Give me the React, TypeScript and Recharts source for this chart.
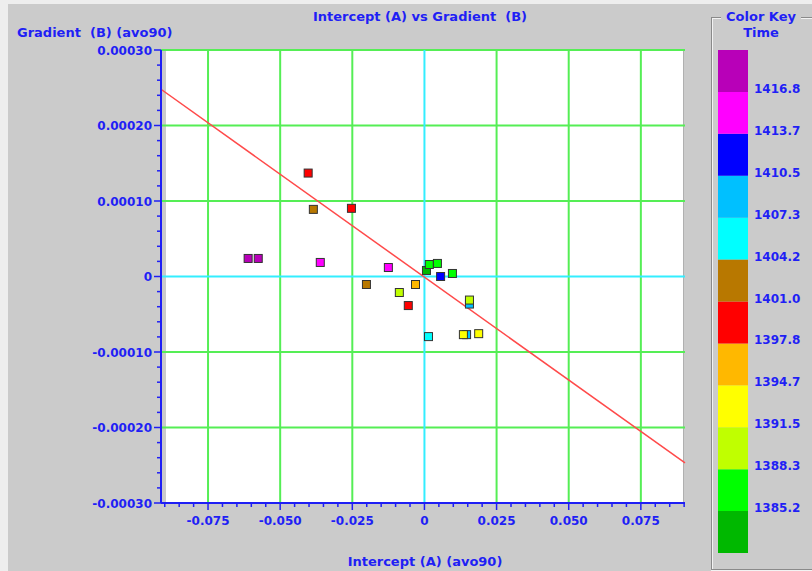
import React from "react";
import {
  ScatterChart,
  Scatter,
  XAxis,
  YAxis,
  ReferenceLine,
  BarChart,
  Bar,
} from "recharts";

// crossplot samples: intercept A, gradient B, and the time each one belongs to
const intercepts = [
  -0.0611, -0.0576, -0.0403, -0.0385, -0.0361, -0.0253, -0.0125, -0.0201,
  -0.0031, -0.0087, -0.0056, 0.0007, 0.0017, 0.0045, 0.0056, 0.0097,
  0.0156, 0.0156, 0.0014, 0.0146, 0.0135, 0.0188,
];
const gradients = [
  0.0000239, 0.0000239, 0.000137, 0.0000889, 0.0000186, 0.0000903, 0.0000119,
  -0.0000106, -0.0000106, -0.0000212, -0.0000385, 0.000008, 0.0000159,
  0.0000173, 0.0, 0.000004, -0.0000365, -0.0000312, -0.0000796, -0.000077,
  -0.000077, -0.0000757,
];
const times = [
  1418.0, 1418.4, 1399.0, 1402.0, 1415.0, 1399.5, 1415.5, 1402.5, 1396.0,
  1390.0, 1398.5, 1384.0, 1386.5, 1386.8, 1412.0, 1387.0, 1408.5, 1390.5,
  1405.5, 1409.0, 1393.0, 1392.5,
];

// least squares line, end points at the plot edges
const fitLine = [
  { A: -0.0913, B: 0.000248 },
  { A: 0.0903, B: -0.000247 },
];

// colour key, bottom band first
const keyColors = [
  "#00b800", "#00ff00", "#c0ff00", "#ffff00", "#ffb800", "#ff0000",
  "#b87800", "#00ffff", "#00c0ff", "#0000ff", "#ff00ff", "#b800b8",
];
const keyBounds = [
  1382.0, 1385.2, 1388.3, 1391.5, 1394.7, 1397.8, 1401.0, 1404.2, 1407.3,
  1410.5, 1413.7, 1416.8, 1420.0,
];
const keyLabels = [
  "1385.2", "1388.3", "1391.5", "1394.7", "1397.8", "1401.0", "1404.2",
  "1407.3", "1410.5", "1413.7", "1416.8",
];

const xMajorTicks = [-0.075, -0.05, -0.025, 0, 0.025, 0.05, 0.075];
const xTickLabels = ["-0.075", "-0.050", "-0.025", "0", "0.025", "0.050", "0.075"];
const yMajorTicks = [-0.0003, -0.0002, -0.0001, 0, 0.0001, 0.0002, 0.0003];
const yTickLabels = [
  "-0.00030", "-0.00020", "-0.00010", "0", "0.00010", "0.00020", "0.00030",
];

const X_DOMAIN = [-0.0913, 0.0903];
const Y_DOMAIN = [-0.0003, 0.0003];
const X_MINOR = 0.005;
const Y_MINOR = 0.00002;

const BLUE = "#1f1ff5";
const GRID = "#55ee55";
const ZERO = "#33eeff";
const FONT = '"DejaVu Sans", sans-serif';

const minorTicks = (lo: number, hi: number, step: number, digits: number) => {
  const out: number[] = [];
  for (let i = Math.ceil(lo / step - 1e-9); i * step <= hi + 1e-12; i++) {
    out.push(Number((i * step).toFixed(digits)));
  }
  return out;
};
const xTicks = minorTicks(X_DOMAIN[0], X_DOMAIN[1], X_MINOR, 4);
const yTicks = minorTicks(Y_DOMAIN[0], Y_DOMAIN[1], Y_MINOR, 6);

const majorIndex = (list: number[], v: number) =>
  list.findIndex((m) => Math.abs(m - v) < 1e-9);

const colorForTime = (t: number) => {
  for (let i = 0; i < keyColors.length; i++) {
    if (t >= keyBounds[i] && t < keyBounds[i + 1]) return keyColors[i];
  }
  return keyColors[keyColors.length - 1];
};

const points = intercepts.map((A, i) => ({ A, B: gradients[i], time: times[i] }));
const keyRow = [
  Object.fromEntries([["name", "Time"], ...keyColors.map((_, i) => [`b${i}`, 1])]),
];

const labelStyle: React.CSSProperties = {
  position: "absolute",
  fontFamily: FONT,
  fontWeight: "bold",
  fontSize: 13,
  color: BLUE,
  whiteSpace: "pre",
  lineHeight: "15px",
};

function YTick(props: any) {
  const { x, y, payload } = props;
  const idx = majorIndex(yMajorTicks, payload.value);
  return (
    <g>
      <line x1={x - (idx >= 0 ? 7 : 4)} x2={x} y1={y} y2={y} stroke={BLUE} strokeWidth={1.5} />
      {idx >= 0 && (
        <text x={x - 9} y={y} dy={4.5} textAnchor="end" fill={BLUE}
          style={{ fontFamily: FONT, fontWeight: "bold", fontSize: 12 }}>
          {yTickLabels[idx]}
        </text>
      )}
    </g>
  );
}

function XTick(props: any) {
  const { x, y, payload } = props;
  const idx = majorIndex(xMajorTicks, payload.value);
  return (
    <g>
      <line x1={x} x2={x} y1={y} y2={y + (idx >= 0 ? 7 : 4)} stroke={BLUE} strokeWidth={1.5} />
      {idx >= 0 && (
        <text x={x} y={y} dy={22} textAnchor="middle" fill={BLUE}
          style={{ fontFamily: FONT, fontWeight: "bold", fontSize: 12 }}>
          {xTickLabels[idx]}
        </text>
      )}
    </g>
  );
}

function KeyTick(props: any) {
  const { x, y, payload } = props;
  return (
    <text x={x + 6} y={y} dy={1} textAnchor="start" fill={BLUE}
      style={{ fontFamily: FONT, fontWeight: "bold", fontSize: 12 }}>
      {keyLabels[payload.value - 1]}
    </text>
  );
}

function Marker(props: any) {
  const { cx, cy, payload } = props;
  if (cx == null || cy == null) return null;
  return (
    <rect x={cx - 4} y={cy - 4} width={8} height={8}
      fill={colorForTime(payload.time)} stroke="#333333" strokeWidth={1} />
  );
}

export default function App() {
  return (
    <div style={{ position: "absolute", left: 0, top: 0, width: 812, height: 571, background: "#eeeeee", overflow: "hidden" }}>
      <div style={{ position: "absolute", left: 8, top: 4, width: 804, height: 567, background: "#cbcbcb" }} />
      {/* white plotting field */}
      <div style={{ position: "absolute", left: 166, top: 49, width: 517, height: 453, background: "#ffffff", boxShadow: "1px 1px 0 #b0b0b0" }} />

      <div style={{ ...labelStyle, left: 0, width: 840, top: 9, textAlign: "center" }}>
        {"Intercept (A) vs Gradient  (B)"}
      </div>
      <div style={{ ...labelStyle, left: 17, top: 25 }}>{"Gradient  (B) (avo90)"}</div>
      <div style={{ ...labelStyle, left: 0, width: 850, top: 554, textAlign: "center" }}>
        {"Intercept (A) (avo90)"}
      </div>

      <div style={{ position: "absolute", left: 0, top: 0 }}>
        <ScatterChart width={700} height={571}
          margin={{ top: 50, right: 15, bottom: 38, left: 101 }}>
          <XAxis type="number" dataKey="A" domain={X_DOMAIN} allowDataOverflow
            ticks={xTicks} interval={0} tickSize={0} tickMargin={0} tickLine={false}
            tick={<XTick />} height={30} axisLine={{ stroke: BLUE, strokeWidth: 2 }} />
          <YAxis type="number" dataKey="B" domain={Y_DOMAIN} allowDataOverflow
            ticks={yTicks} interval={0} tickSize={0} tickMargin={0} tickLine={false}
            tick={<YTick />} width={60} axisLine={{ stroke: BLUE, strokeWidth: 2 }} />
          {xMajorTicks.filter((v) => v !== 0).map((v) => (
            <ReferenceLine key={`gx${v}`} x={v} stroke={GRID} strokeWidth={2} />
          ))}
          {yMajorTicks.filter((v) => v !== 0 && v !== Y_DOMAIN[0]).map((v) => (
            <ReferenceLine key={`gy${v}`} y={v} stroke={GRID} strokeWidth={2} />
          ))}
          <ReferenceLine x={0} stroke={ZERO} strokeWidth={2} />
          <ReferenceLine y={0} stroke={ZERO} strokeWidth={2} />
          <ReferenceLine segment={fitLine.map((p) => ({ x: p.A, y: p.B }))}
            stroke="#ff4a4a" strokeWidth={1.5} />
          <Scatter data={points} shape={<Marker />} isAnimationActive={false} />
        </ScatterChart>
      </div>

      {/* colour key frame */}
      <div style={{ position: "absolute", left: 711, top: 17, width: 110, height: 551,
        borderLeft: "1px solid #8a8a8a", borderTop: "1px solid #8a8a8a", borderBottom: "1px solid #8a8a8a",
        boxShadow: "inset 1px 1px 0 #f2f2f2, 0 1px 0 #f2f2f2" }} />
      <div style={{ ...labelStyle, left: 721, top: 9, width: 80, textAlign: "center", background: "#cbcbcb" }}>
        Color Key
      </div>
      <div style={{ ...labelStyle, left: 721, top: 25, width: 80, textAlign: "center" }}>Time</div>

      <div style={{ position: "absolute", left: 718, top: 0 }}>
        <BarChart width={94} height={571} data={keyRow} barCategoryGap={0}
          margin={{ top: 50, right: 0, bottom: 18, left: 0 }}>
          <XAxis dataKey="name" hide />
          <YAxis type="number" orientation="right" domain={[0, keyColors.length]}
            ticks={keyLabels.map((_, i) => i + 1)} interval={0} width={64}
            tickSize={0} tickMargin={0} tickLine={false} axisLine={false} tick={<KeyTick />} />
          {keyColors.map((c, i) => (
            <Bar key={c} dataKey={`b${i}`} stackId="key" fill={c} isAnimationActive={false} />
          ))}
        </BarChart>
      </div>
    </div>
  );
}
